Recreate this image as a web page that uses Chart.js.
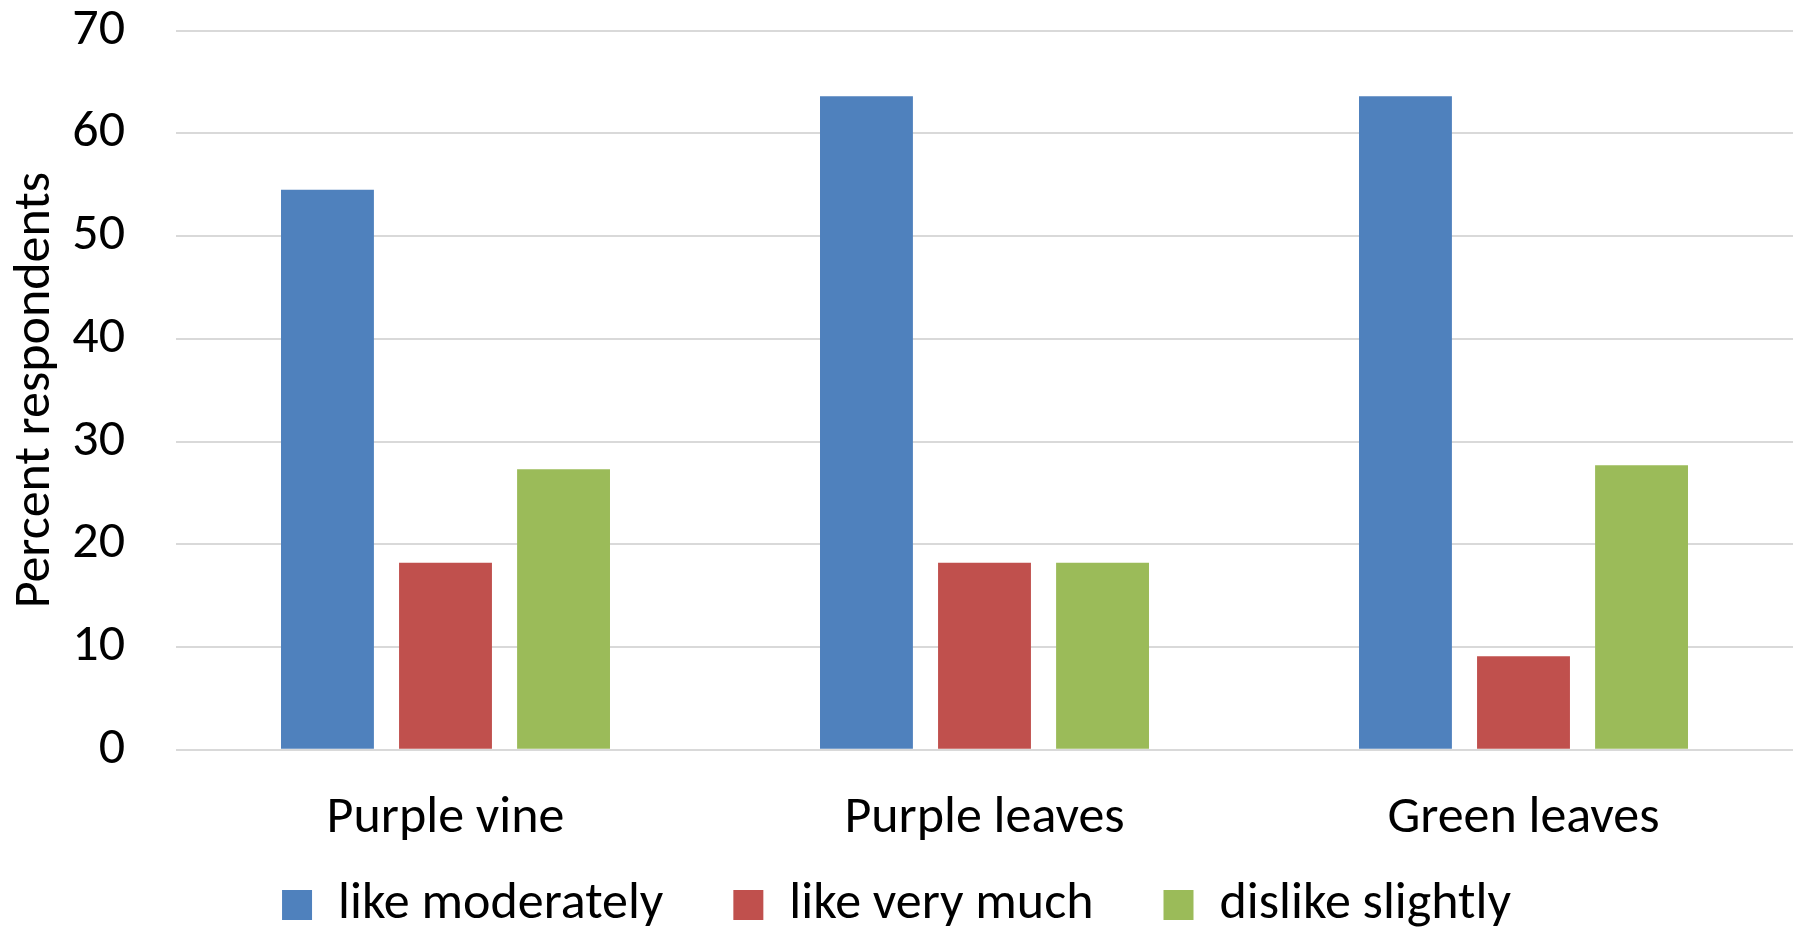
<!DOCTYPE html>
<html>
<head>
<meta charset="utf-8">
<script src="https://cdn.jsdelivr.net/npm/chart.js@4/dist/chart.umd.min.js"></script>
<style>
  html, body { margin: 0; padding: 0; background: #ffffff; }
  #wrap { width: 1798px; height: 928px; }
</style>
</head>
<body>
<div id="wrap"><canvas id="chart" width="1798" height="928"></canvas></div>
<script>
// Ginger variety preference survey
const categories = ['Purple vine', 'Purple leaves', 'Green leaves'];
const likeModerately = [54.5, 63.6, 63.6];
const likeVeryMuch = [18.2, 18.2, 9.1];
const dislikeSlightly = [27.3, 18.2, 27.7];
const yTicks = [0, 10, 20, 30, 40, 50, 60, 70];

const FONT = 'Carlito, Calibri, Lato, sans-serif';
const font52 = { family: FONT, size: 52, lineHeight: 1.2 };

new Chart(document.getElementById('chart'), {
  type: 'bar',
  data: {
    labels: categories,
    datasets: [
      { label: 'like moderately', data: likeModerately, backgroundColor: '#4F81BD' },
      { label: 'like very much', data: likeVeryMuch, backgroundColor: '#C0504D' },
      { label: 'dislike slightly', data: dislikeSlightly, backgroundColor: '#9BBB59' }
    ]
  },
  options: {
    responsive: false,
    animation: false,
    devicePixelRatio: 1,
    categoryPercentage: 0.657,
    barPercentage: 0.787,
    layout: { padding: { top: 30.5, right: 5, left: 0, bottom: -13 } },
    plugins: {
      tooltip: { enabled: false },
      legend: {
        position: 'bottom',
        labels: {
          font: font52,
          color: '#000000',
          boxWidth: 30,
          boxHeight: 30,
          padding: 70
        }
      }
    },
    scales: {
      x: {
        grid: { display: false, drawTicks: false },
        border: { display: false },
        ticks: { font: font52, color: '#000000', padding: 38 },
        afterFit: (s) => {
          s.height = 59.2;
          // category labels may run past the short axis box; draw them unclipped
          s._computeLabelArea = () => undefined;
        }
      },
      y: {
        min: 0,
        max: 70,
        afterBuildTicks: (s) => { s.ticks = yTicks.map(v => ({ value: v })); },
        grid: { color: '#D9D9D9', lineWidth: 2, drawTicks: true, tickLength: 51, tickColor: 'rgba(0,0,0,0)' },
        border: { display: false },
        ticks: { font: { family: FONT, size: 52, lineHeight: 1 }, color: '#000000', padding: 0 },
        title: {
          display: true,
          text: 'Percent respondents',
          font: font52,
          color: '#000000',
          padding: { top: 5, bottom: 0 }
        },
        afterFit: (s) => { s.width = 176; }
      }
    }
  }
});
</script>
</body>
</html>
